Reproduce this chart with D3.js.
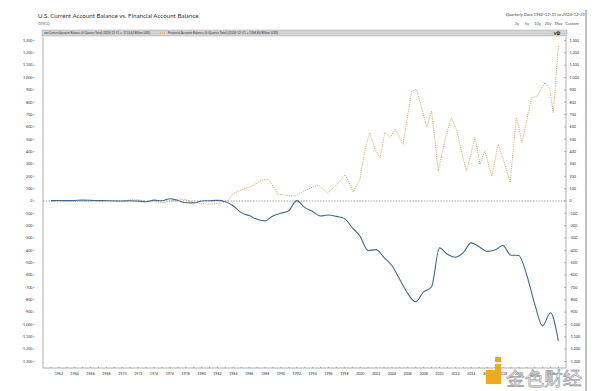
<!DOCTYPE html>
<html><head><meta charset="utf-8">
<script src="https://cdn.jsdelivr.net/npm/d3@7/dist/d3.min.js"></script>
<style>body{margin:0;background:#fff}svg{display:block}text{font-family:Lato,"Open Sans",sans-serif}</style>
</head><body>
<svg id="c" width="600" height="391"></svg>
<script>
// ---- data ----
const caYears = [1960,1961,1962,1963,1964,1965,1966,1967,1968,1969,1970,1971,1972,1973,1974,1975,1976,1977,1978,1979,1980,1981,1982,1983,1984,1985,1986,1987,1988,1989,1990,1991,1992,1993,1994,1995,1996,1997,1998,1999,2000,2001,2002,2003,2004,2005,2006,2007,2008,2009,2010,2011,2012,2013,2014,2015,2016,2017,2018,2019,2020,2021,2022,2023,2024];
const caValues = [2.8,3.8,3.4,4.4,6.8,5.4,3.0,2.6,0.6,0.4,2.3,-1.4,-5.8,7.1,2.0,18.1,4.3,-14.3,-15.1,-0.3,2.3,5.0,-5.5,-38.7,-94.3,-118.2,-147.2,-160.7,-121.2,-99.5,-79.0,2.9,-51.6,-84.8,-121.6,-113.6,-124.8,-140.7,-215.1,-286.6,-401.9,-394.1,-456.1,-522.3,-635.9,-749.2,-816.6,-736.6,-696.5,-379.7,-432.0,-455.3,-418.2,-339.5,-370.0,-408.0,-397.0,-361.0,-439.0,-441.0,-597.0,-831.0,-1012.0,-905.0,-1133.62];
const faYears = [1960.99,1961.5,1962,1963,1964,1965,1966,1967,1968,1969,1970,1971,1972,1973,1974,1975,1976,1977,1978,1979,1980,1981,1982,1983,1983.5,1984,1985,1986.1,1987,1987.6,1988.4,1989,1989.6,1990.9,1991.8,1992.7,1993.7,1994.7,1995.9,1996.7,1997.45,1998.1,1999.1,1999.97,2000.6,2001.2,2001.9,2002.5,2003.1,2003.8,2004.4,2005.4,2006.5,2007.1,2008.4,2009.0,2009.85,2010.7,2011.5,2012.2,2012.8,2013.4,2014.5,2015.1,2015.7,2016.6,2017.4,2018.05,2018.9,2019.7,2020.4,2021.0,2021.6,2022.3,2023.3,2023.9,2024.35,2025.0];
const faValues = [0,0,-2,0,-5,-3,0,2,5,3,0,8,10,-5,2,-15,-5,15,10,-10,-20,-25,-20,-10,15,60,90,115,145,170,175,120,55,45,40,75,105,130,65,110,160,215,73,175,418,553,418,350,555,515,580,460,890,905,597,729,243,500,677,567,394,243,515,297,405,202,460,338,149,677,475,650,837,850,958,905,716,1268.84];
const yTicks = d3.range(-1300, 1301, 100);
const xLabelYears = d3.range(1962, 2025, 2);
const title = "U.S. Current Account Balance vs. Financial Account Balance";
const subtitle = "(GTWCQ)";
const legendCA = "Current Account Balance (4-Quarter Total) (2024-12-31 = -1133.62 Billion USD)";
const legendFA = "Financial Account Balance (4-Quarter Total) (2024-12-31 = 1268.84 Billion USD)";
const rangeText = "Quarterly Data 1960-12-31 to 2024-12-31";
const buttons = ["3y","5y","10y","20y","Max","Custom"];

// ---- chart ----
const svg = d3.select("#c");
const L = 43, R = 566, T = 37, B = 368;
const x = d3.scaleLinear().domain([1960, 2025.95]).range([L, R]);
const y = d3.scaleLinear().domain([-1300, 1300]).range([361.5, 40.5]);
const fmt = v => (v < 0 ? "-" : "") + d3.format(",")(Math.abs(v));

const BLUE = "#3f6b8b", ORANGE = "#d6a35c", AX = "#9a9a9a";

// title
svg.append("text").attr("x", 38).attr("y", 18).attr("font-size", 6.2).attr("fill", "#333").text(title);
svg.append("text").attr("x", 38).attr("y", 24.5).attr("font-size", 2.8).attr("fill", "#666").text(subtitle);
svg.append("text").attr("x", 585).attr("y", 16).attr("text-anchor", "end").attr("font-size", 4.3).attr("font-style", "italic").attr("fill", "#444").text(rangeText);
const bx = [517, 527, 537.5, 548, 558.5, 572];
svg.selectAll(".btn").data(buttons).join("text").attr("class","btn")
  .attr("x", (d,i) => bx[i]).attr("y", 24.5).attr("text-anchor", "middle").attr("font-size", 4).attr("fill", "#555").text(d => d);

// right frame line
svg.append("line").attr("x1", 586).attr("x2", 586).attr("y1", 10).attr("y2", 391).attr("stroke", "#aaa").attr("stroke-width", 1.5);

// legend bar
svg.append("rect").attr("x", L - 1).attr("y", 30).attr("width", R - L + 2).attr("height", 6).attr("fill", "#d3d3d3").attr("stroke", "#a8a8a8").attr("stroke-width", 0.5);
svg.append("line").attr("x1", 44).attr("x2", 48.5).attr("y1", 33).attr("y2", 33).attr("stroke", BLUE).attr("stroke-width", 1);
svg.append("text").attr("x", 49).attr("y", 34.4).attr("font-size", 3.6).attr("fill", "#333")
  .attr("textLength", 101).attr("lengthAdjust", "spacingAndGlyphs").text(legendCA);
svg.append("line").attr("x1", 160).attr("x2", 166).attr("y1", 33).attr("y2", 33).attr("stroke", ORANGE).attr("stroke-width", 1).attr("stroke-dasharray", "1,1");
svg.append("text").attr("x", 168).attr("y", 34.4).attr("font-size", 3.6).attr("fill", "#333")
  .attr("textLength", 110).attr("lengthAdjust", "spacingAndGlyphs").text(legendFA);
svg.append("text").attr("x", 557).attr("y", 35).attr("text-anchor", "middle").attr("font-size", 5).attr("font-weight", "bold").attr("fill", "#222").text("v⚙");

// axes lines
svg.append("line").attr("x1", L).attr("x2", L).attr("y1", T).attr("y2", B).attr("stroke", AX).attr("stroke-width", 0.8);
svg.append("line").attr("x1", R).attr("x2", R).attr("y1", T).attr("y2", B).attr("stroke", AX).attr("stroke-width", 0.8);
svg.append("line").attr("x1", L).attr("x2", R).attr("y1", B).attr("y2", B).attr("stroke", AX).attr("stroke-width", 0.8);

// y ticks left
const gl = svg.append("g");
gl.selectAll("text").data(yTicks).join("text").attr("x", 32.5).attr("y", d => y(d) + 1.3).attr("text-anchor", "end").attr("font-size", 3.7).attr("fill", "#333").text(fmt);
gl.selectAll("line").data(yTicks).join("line").attr("x1", 33).attr("x2", 34.8).attr("y1", d => y(d)).attr("y2", d => y(d)).attr("stroke", "#777").attr("stroke-width", 0.5);
// y ticks right
const gr = svg.append("g");
gr.selectAll("text").data(yTicks).join("text").attr("x", 569.5).attr("y", d => y(d) + 1.3).attr("font-size", 3.7).attr("fill", "#333").text(fmt);
gr.selectAll("line").data(yTicks).join("line").attr("x1", 564).attr("x2", R).attr("y1", d => y(d)).attr("y2", d => y(d)).attr("stroke", "#777").attr("stroke-width", 0.5);

// x ticks
const gx = svg.append("g");
gx.selectAll("line").data(d3.range(1961, 2026)).join("line").attr("x1", d => x(d)).attr("x2", d => x(d)).attr("y1", B - 1.2).attr("y2", B).attr("stroke", "#666").attr("stroke-width", 0.5);
gx.selectAll("text").data(xLabelYears).join("text").attr("x", d => x(d)).attr("y", 374.5).attr("text-anchor", "middle").attr("font-size", 3.6).attr("fill", "#333").text(d => d);

// zero line
svg.append("line").attr("x1", L).attr("x2", R).attr("y1", y(0)).attr("y2", y(0)).attr("stroke", "#6d7278").attr("stroke-width", 0.8).attr("stroke-dasharray", "1.2,1.6");

// series
const faData = faYears.map((d,i) => [d, faValues[i]]);
const caData = caYears.map((d,i) => [d + 0.99, caValues[i]]);
const lineFA = d3.line().x(d => x(d[0])).y(d => y(d[1]));
const lineCA = d3.line().x(d => x(d[0])).y(d => y(d[1])).curve(d3.curveMonotoneX);
svg.append("path").attr("d", lineFA(faData)).attr("fill", "none").attr("stroke", ORANGE).attr("stroke-width", 1).attr("stroke-dasharray", "1,1.2");
svg.append("path").attr("d", lineCA(caData)).attr("fill", "none").attr("stroke", BLUE).attr("stroke-width", 1.1);

// watermark
const wm = svg.append("g");
wm.append("path").attr("d", "M486,370 h9 v-6 h6 v20 h-15 z").attr("fill", "#f2a81d");
wm.append("rect").attr("x", 495).attr("y", 357).attr("width", 6).attr("height", 5).attr("fill", "#f2a81d");
wm.append("text").attr("x", 506).attr("y", 385).attr("font-size", 19).attr("font-family", "'Noto Sans CJK SC'").attr("fill", "#fff").attr("fill-opacity", 0.85).attr("stroke", "#9a9a9a").attr("stroke-width", 0.7).text("金色财经");
</script>
</body></html>
